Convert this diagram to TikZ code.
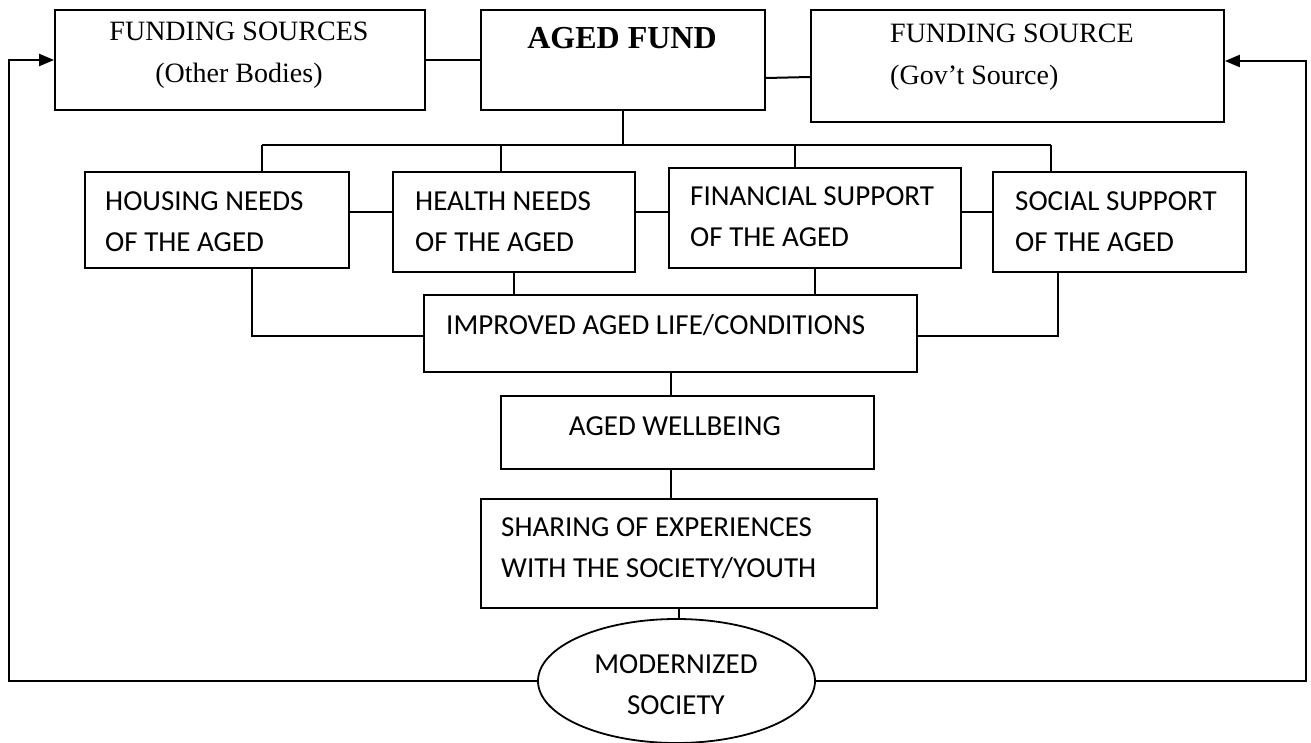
\documentclass[tikz,border=0pt]{standalone}
\usepackage{fontspec}
\setmainfont{Liberation Serif}
\newfontfamily\calibri{Carlito}
\usetikzlibrary{arrows.meta,shapes.geometric}

\tikzset{
  box/.style={draw, line width=1.8pt, inner sep=0pt},
  serif/.style={inner sep=0pt, font=\fontsize{28}{42}\selectfont, align=center},
  sans/.style={inner sep=0pt, font=\calibri\fontsize{29}{41}\selectfont, align=left},
  link/.style={line width=2pt},
  feedback/.style={line width=2.2pt, -{Triangle[length=15pt,width=12pt]}}
}

\begin{document}
\begin{tikzpicture}[x=1pt, y=-1pt]
            \useasboundingbox (0,0) rectangle (1311,743);

            \node[box, minimum width=370pt, minimum height=100pt] (other) at (240,60) {};
            \node[box, minimum width=284pt, minimum height=100pt] (fund) at (623,60) {};
            \node[box, minimum width=413pt, minimum height=112pt] (gov) at (1017.5,66) {};

            \node[box, minimum width=264pt, minimum height=96pt] (housing) at (217,220) {};
            \node[box, minimum width=242pt, minimum height=100pt] (health) at (514,222) {};
            \node[box, minimum width=292pt, minimum height=100pt] (financial) at (815,218) {};
            \node[box, minimum width=253pt, minimum height=100pt] (social) at (1119.5,222) {};

            \node[box, minimum width=493pt, minimum height=77pt] (improved) at (670.5,333.5) {};
            \node[box, minimum width=373pt, minimum height=73pt] (wellbeing) at (687.5,432.5) {};
            \node[box, minimum width=396pt, minimum height=109pt] (sharing) at (679,553.5) {};
            \node[box, ellipse, minimum width=277pt, minimum height=124pt] (society) at (676.5,681) {};

            \node[serif] (t-other) at (239,55) {FUNDING SOURCES\\(Other Bodies)};
            \node[serif, font=\bfseries\fontsize{32}{38}\selectfont] (t-fund) at (622,38) {AGED FUND};
            \node[serif, anchor=west, align=left] (t-gov) at (890,57) {FUNDING SOURCE\\(Gov’t Source)};

            \node[sans, anchor=west] (t-housing) at (105,222) {HOUSING NEEDS\\OF THE AGED};
            \node[sans, anchor=west] (t-health) at (415,222) {HEALTH NEEDS\\OF THE AGED};
            \node[sans, anchor=west] (t-financial) at (690,217) {FINANCIAL SUPPORT\\OF THE AGED};
            \node[sans, anchor=west] (t-social) at (1015,222) {SOCIAL SUPPORT\\OF THE AGED};
            \node[sans, anchor=west] (t-improved) at (446,325) {IMPROVED AGED LIFE/CONDITIONS};
            \node[sans] (t-wellbeing) at (675,426) {AGED WELLBEING};
            \node[sans, anchor=west] (t-sharing) at (501,548) {SHARING OF EXPERIENCES\\WITH THE SOCIETY/YOUTH};
            \node[sans, align=center] (t-society) at (676,685) {MODERNIZED\\SOCIETY};

            \draw[link] (other) -- (fund);
            \draw[link] ([yshift=-18pt]fund.east) -- ([yshift=-11pt]gov.west);

            \coordinate (d1) at (262,145);
            \coordinate (d2) at (501,145);
            \coordinate (d3) at (795,145);
            \coordinate (d4) at (1051,145);
            \draw[link] (d1) -- (d4);
            \draw[link] (fund.south) -- (fund.south |- d1);
            \draw[link] (d1) -- (d1 |- housing.north);
            \draw[link] (d2) -- (d2 |- health.north);
            \draw[link] (d3) -- (d3 |- financial.north);
            \draw[link] (d4) -- (d4 |- social.north);

            \coordinate (row) at (0,212);
            \draw[link] (housing.east |- row) -- (health.west |- row);
            \draw[link] (health.east |- row) -- (financial.west |- row);
            \draw[link] (financial.east |- row) -- (social.west |- row);

            \coordinate (l1) at (252,336);
            \coordinate (r1) at (1058,336);
            \draw[link] (housing.south -| l1) -- (l1) -- (l1 -| improved.west);
            \draw[link] (social.south -| r1) -- (r1) -- (r1 -| improved.east);
            \draw[link] (health.south) -- (health.south |- improved.north);
            \draw[link] (financial.south) -- (financial.south |- improved.north);

            \draw[link] (improved.south) -- (improved.south |- wellbeing.north);
            \draw[link] (improved.south |- wellbeing.south) -- (improved.south |- sharing.north);
            \draw[link] (sharing.south) -- (sharing.south |- society.north);

            \coordinate (cl) at (9,681);
            \coordinate (cr) at (1306,681);
            \draw[feedback] (society.west) -- (cl) |- (other.west);
            \draw[feedback] (society.east) -- (cr) |- ([yshift=5pt]gov.east);

        \end{tikzpicture}
\end{document}
